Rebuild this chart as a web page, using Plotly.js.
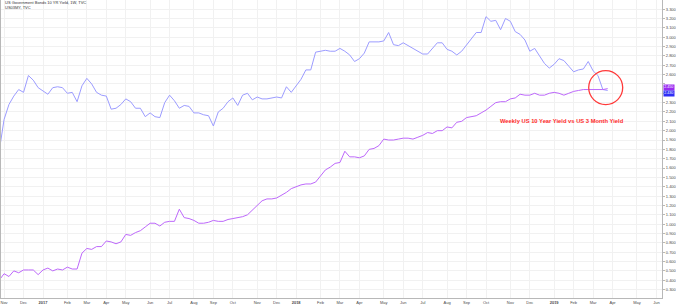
<!DOCTYPE html>
<html>
<head>
<meta charset="utf-8">
<script src="https://cdn.plot.ly/plotly-3.0.1.min.js"></script>
<style>html,body{margin:0;padding:0;background:#fff;}#chart{width:676px;height:306px;}</style>
</head>
<body>
<div id="chart"></div>
<script>
// Weekly bars (Monday-dated), first bar 2016-10-31
const firstWeek = '2016-10-31';
const us10y = [1.78,2.12,2.28,2.37,2.44,2.41,2.59,2.54,2.46,2.42,2.39,2.46,2.47,2.46,2.40,2.41,2.31,2.48,2.56,2.50,
  2.41,2.38,2.37,2.23,2.24,2.28,2.34,2.31,2.24,2.24,2.15,2.19,2.15,2.14,2.30,2.38,2.32,2.24,2.27,2.26,
  2.19,2.19,2.17,2.16,2.05,2.20,2.24,2.31,2.35,2.27,2.38,2.40,2.33,2.36,2.34,2.34,2.35,2.36,2.35,2.47,
  2.41,2.48,2.55,2.65,2.65,2.84,2.85,2.86,2.85,2.85,2.88,2.85,2.81,2.74,2.77,2.83,2.95,2.95,2.95,2.96,
  3.05,2.92,2.91,2.94,2.91,2.88,2.85,2.82,2.82,2.88,2.94,2.94,2.87,2.85,2.81,2.85,2.92,2.99,3.05,3.05,
  3.22,3.17,3.18,3.08,3.20,3.17,3.06,3.03,2.97,2.85,2.88,2.80,2.72,2.67,2.71,2.77,2.75,2.69,2.63,2.65,
  2.66,2.74,2.64,2.59,2.44,2.43];
const us3m = [0.40,0.47,0.44,0.50,0.48,0.51,0.51,0.51,0.46,0.51,0.53,0.50,0.52,0.51,0.54,0.52,0.52,0.69,0.74,0.73,
  0.76,0.76,0.82,0.81,0.79,0.81,0.89,0.88,0.91,0.93,0.97,1.01,1.01,0.98,1.02,1.03,1.03,1.16,1.07,1.06,
  1.04,1.01,1.01,1.02,1.04,1.03,1.03,1.05,1.06,1.07,1.08,1.10,1.15,1.21,1.25,1.27,1.27,1.28,1.31,1.34,
  1.38,1.40,1.42,1.43,1.43,1.45,1.52,1.58,1.61,1.65,1.66,1.78,1.72,1.72,1.71,1.73,1.80,1.81,1.84,1.91,
  1.90,1.90,1.91,1.92,1.92,1.91,1.93,1.95,1.98,1.97,2.00,2.00,2.04,2.03,2.09,2.10,2.14,2.15,2.16,2.19,
  2.22,2.26,2.30,2.31,2.31,2.34,2.35,2.39,2.38,2.38,2.40,2.38,2.38,2.40,2.41,2.40,2.38,2.40,2.42,2.43,
  2.44,2.44,2.44,2.44,2.44,2.45];
const tickDates = ['2016-11-07','2016-12-05','2017-01-02','2017-02-06','2017-03-06','2017-04-03','2017-05-01','2017-06-05',
  '2017-07-03','2017-08-07','2017-09-04','2017-10-02','2017-11-06','2017-12-04','2018-01-01','2018-02-05','2018-03-05',
  '2018-04-02','2018-05-07','2018-06-04','2018-07-02','2018-08-06','2018-09-03','2018-10-01','2018-11-05','2018-12-03',
  '2019-01-07','2019-02-04','2019-03-04','2019-04-01','2019-05-06','2019-06-03'];
const tickLabels = ['Nov','Dec','<b>2017</b>','Feb','Mar','Apr','May','Jun','Jul','Aug','Sep','Oct','Nov','Dec','<b>2018</b>',
  'Feb','Mar','Apr','May','Jun','Jul','Aug','Sep','Oct','Nov','Dec','<b>2019</b>','Feb','Mar','Apr','May','Jun'];
const yTicks = [0.3,0.4,0.5,0.6,0.7,0.8,0.9,1.0,1.1,1.2,1.3,1.4,1.5,1.6,1.7,1.8,1.9,2.0,2.1,2.2,2.3,2.4,2.5,2.6,2.7,2.8,2.9,3.0,3.1,3.2,3.3];
const titleLines = ['US Government Bonds 10 YR Yield, 1W, TVC', 'US03MY, TVC'];
const noteText = 'Weekly US 10 Year Yield vs US 3 Month Yield';

const weeks = [];
(function(){
  const d0 = new Date(firstWeek + 'T00:00:00Z');
  for (let i = 0; i < us10y.length; i++) {
    const d = new Date(d0.getTime() + i * 7 * 86400000);
    weeks.push(d.toISOString().slice(0,10));
  }
})();

const c10 = '#9c9cff', c3m = '#bd68fb';
const last = weeks.length - 1;
// tick labels hidden where the last-value badges sit (as the reference does)
const yTickText = yTicks.map(v =>
  (Math.abs(v - us3m[last]) < 0.1 || Math.abs(v - us10y[last]) < 0.1) ? '' : v.toFixed(3));

const traces = [
  {x: weeks, y: us10y, type: 'scatter', mode: 'lines', line: {color: c10, width: 1}, hoverinfo: 'skip'},
  {x: weeks, y: us3m, type: 'scatter', mode: 'lines', line: {color: c3m, width: 1}, hoverinfo: 'skip'}
];

const layout = {
  width: 676, height: 306,
  margin: {l: 1, r: 14, t: 0, b: 8},
  paper_bgcolor: '#ffffff', plot_bgcolor: '#ffffff',
  showlegend: false,
  font: {family: 'Liberation Sans, Arial, sans-serif', size: 4, color: '#4a4a4a'},
  xaxis: {
    type: 'date', range: ['2016-11-02 14:00', '2019-06-11 02:00'],
    tickmode: 'array', tickvals: tickDates, ticktext: tickLabels,
    showgrid: true, gridcolor: '#f1f1f1', gridwidth: 1,
    showline: true, linecolor: '#b8b8b8', linewidth: 1,
    ticks: '', tickfont: {size: 4, color: '#4a4a4a'}, zeroline: false, fixedrange: true
  },
  yaxis: {
    side: 'right', range: [0.21, 3.398], tickmode: 'array', tickvals: yTicks, ticktext: yTickText,
    showgrid: true, gridcolor: '#f1f1f1', gridwidth: 1,
    showline: true, mirror: true, linecolor: '#b8b8b8', linewidth: 1,
    ticks: 'outside', ticklen: 2, tickcolor: '#b8b8b8', tickfont: {size: 4, color: '#4a4a4a'},
    zeroline: false, fixedrange: true
  },
  shapes: [{
    type: 'circle', xref: 'x', yref: 'y', xsizemode: 'pixel', ysizemode: 'pixel',
    xanchor: weeks[last], yanchor: us3m[last],
    x0: -19, x1: 15, y0: -16, y1: 18,
    line: {color: '#ff3a3a', width: 1.3}
  }],
  annotations: [
    {xref: 'paper', yref: 'paper', x: 0.003, y: 0.992, xanchor: 'left', yanchor: 'middle', showarrow: false,
     text: titleLines[0], font: {size: 4, color: '#333'}},
    {xref: 'paper', yref: 'paper', x: 0.003, y: 0.975, xanchor: 'left', yanchor: 'middle', showarrow: false,
     text: titleLines[1], font: {size: 4, color: '#333'}},
    {xref: 'paper', yref: 'paper', x: 0.848, y: 0.593, xanchor: 'center', yanchor: 'middle', showarrow: false,
     text: '<b>' + noteText + '</b>', font: {size: 5.8, color: '#ff2b2b'}},
    {xref: 'paper', yref: 'y', x: 1.002, y: us3m[last], xanchor: 'left', yanchor: 'middle', showarrow: false,
     text: us3m[last].toFixed(3), font: {size: 3.6, color: '#ffffff'}, bgcolor: '#9a2cf0', borderpad: 0.3, yshift: 1.5},
    {xref: 'paper', yref: 'y', x: 1.002, y: us10y[last], xanchor: 'left', yanchor: 'middle', showarrow: false,
     text: us10y[last].toFixed(3), font: {size: 3.6, color: '#ffffff'}, bgcolor: '#2f2ff5', borderpad: 0.3, yshift: -3.5}
  ]
};

Plotly.newPlot('chart', traces, layout, {staticPlot: true, displayModeBar: false});
</script>
</body>
</html>
